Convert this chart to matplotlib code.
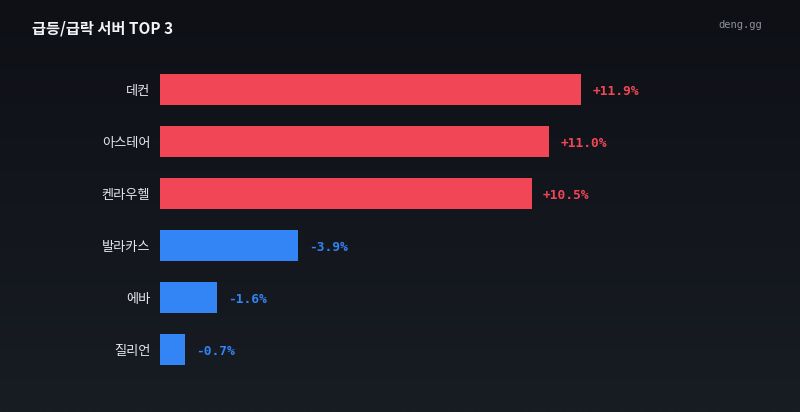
import numpy as np
import matplotlib
matplotlib.use("Agg")
import matplotlib.pyplot as plt
from matplotlib.colors import LinearSegmentedColormap

plt.rcParams['font.family'] = ['Noto Sans CJK KR', 'DejaVu Sans']

# data
servers = ["데컨", "아스테어", "켄라우헬", "발라카스", "에바", "질리언"]
changes = [11.9, 11.0, 10.5, -3.9, -1.6, -0.7]

title = "급등/급락 서버 TOP 3"
brand = "deng.gg"

RED = "#f04656"
BLUE = "#3384f5"

fig = plt.figure(figsize=(8, 4.12), dpi=100)

# background gradient
bg = fig.add_axes([0, 0, 1, 1], zorder=0)
grad = np.linspace(0, 1, 256).reshape(-1, 1)
cmap = LinearSegmentedColormap.from_list("bg", ["#0e1016", "#181c23"])
bg.imshow(grad, aspect="auto", cmap=cmap, extent=[0, 1, 0, 1])
bg.axis("off")

W, H = 800, 412
ax = fig.add_axes([160 / W, 1 - 375.5 / H, 600 / W, 312 / H], zorder=1)
ax.patch.set_alpha(0)

ypos = np.arange(len(servers))
vals = [abs(v) for v in changes]
colors = [RED if v > 0 else BLUE for v in changes]
ax.barh(ypos, vals, height=0.59, color=colors)
ax.set_ylim(len(servers) - 0.5, -0.5)
ax.set_xlim(0, 600 / 35.4)

for y, v, c in zip(ypos, changes, colors):
    s = f"{v:+.1f}%"
    ax.annotate(s, (abs(v), y), xytext=(8, -1.5), textcoords="offset points",
                ha="left", va="center", color=c, fontsize=9.3,
                family="DejaVu Sans Mono", fontweight="bold")

ax.set_yticks(ypos)
ax.set_yticklabels(servers, fontsize=9.5, color="#e6e8ec", fontweight="medium")
ax.tick_params(axis="y", length=0, pad=7)
for lbl in ax.get_yticklabels():
    lbl.set_y(lbl.get_position()[1])
ax.set_xticks([])
for sp in ax.spines.values():
    sp.set_visible(False)

fig.text(32 / W, 1 - 28 / H, title, ha="left", va="center", fontsize=11,
         fontweight="bold", color="#f2f3f5")
fig.text(762 / W, 1 - 25.5 / H, brand, ha="right", va="center", fontsize=7.5,
         family="DejaVu Sans Mono", color="#8c9099")

fig.savefig("out.png", dpi=100)
